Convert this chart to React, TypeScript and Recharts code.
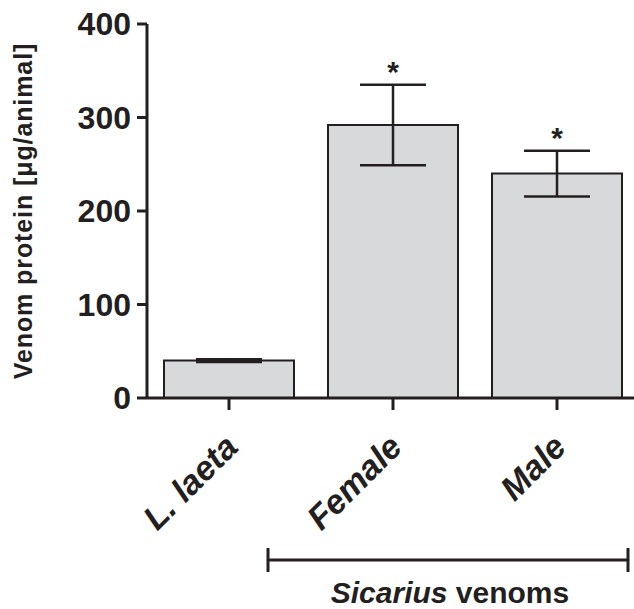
import { BarChart, Bar, XAxis, YAxis, ErrorBar, LabelList } from "recharts";

const groups = ["L. laeta", "Female", "Male"];
const means = [40, 292, 240];
const sems = [1.4, 43, 24.5];
const marks = ["", "*", "*"];
const yTicks = [0, 100, 200, 300, 400];

const data = groups.map((g, i) => ({
  group: g,
  mean: means[i],
  sem: sems[i],
  mark: marks[i],
}));

const font = '"Liberation Sans", Arial, sans-serif';
const ink = "#231f20";

function GroupTick({ x, y, payload }: any) {
  const ax = x + 11;
  const ay = y + 37;
  return (
    <text
      x={ax}
      y={ay}
      transform={`rotate(-45, ${ax}, ${ay})`}
      textAnchor="end"
      fontFamily={font}
      fontStyle="italic"
      fontWeight="bold"
      fontSize={34}
      fill={ink}
    >
      {payload.value}
    </text>
  );
}

function StarLabel({ x, y, width, height, value, index }: any) {
  if (!value) return null;
  const perUnit = height / means[index];
  const top = y - sems[index] * perUnit;
  return (
    <text
      x={x + width / 2}
      y={top - 3}
      textAnchor="middle"
      fontFamily={font}
      fontWeight="bold"
      fontSize={30}
      fill={ink}
    >
      {value}
    </text>
  );
}

function YTitle({ viewBox }: any) {
  const cx = viewBox.x + 23;
  const cy = viewBox.y + viewBox.height / 2;
  return (
    <text
      x={cx}
      y={cy}
      transform={`rotate(-90, ${cx}, ${cy})`}
      textAnchor="middle"
      dominantBaseline="central"
      fontFamily={font}
      fontWeight="bold"
      fontSize={25}
      letterSpacing={0.9}
      fill={ink}
    >
      Venom protein [μg/animal]
    </text>
  );
}

export default function App() {
  return (
    <div
      style={{
        position: "absolute",
        left: 0,
        top: 0,
        width: 634,
        height: 609,
        overflow: "hidden",
        background: "#fff",
      }}
    >
      <BarChart
        width={660}
        height={609}
        data={data}
        margin={{ top: 24, right: 21, bottom: 111, left: 0 }}
        barSize={130}
      >
        <XAxis
          dataKey="group"
          height={100}
          axisLine={{ stroke: ink, strokeWidth: 3 }}
          tickLine={{ stroke: ink, strokeWidth: 3 }}
          tickSize={12}
          tick={<GroupTick />}
          interval={0}
        />
        <YAxis
          width={147}
          domain={[0, 400]}
          ticks={yTicks}
          axisLine={{ stroke: ink, strokeWidth: 3 }}
          tickLine={{ stroke: ink, strokeWidth: 3 }}
          tickSize={10}
          tickMargin={6}
          tick={{ fontFamily: font, fontWeight: "bold", fontSize: 32, fill: ink }}
          label={<YTitle />}
        />
        <Bar
          dataKey="mean"
          fill="#d8d9db"
          stroke={ink}
          strokeWidth={2}
          isAnimationActive={false}
        >
          <ErrorBar dataKey="sem" width={33} stroke={ink} strokeWidth={2.5} />
          <LabelList dataKey="mark" content={<StarLabel />} />
        </Bar>
      </BarChart>
      <svg
        width={634}
        height={609}
        style={{ position: "absolute", left: 0, top: 0, pointerEvents: "none" }}
      >
        <g stroke={ink} strokeWidth={3}>
          <line x1={268} y1={560} x2={628} y2={560} />
          <line x1={268} y1={548} x2={268} y2={572} />
          <line x1={628} y1={548} x2={628} y2={572} />
        </g>
        <text
          x={450}
          y={603}
          textAnchor="middle"
          fontFamily={font}
          fontWeight="bold"
          fontSize={30}
          fill={ink}
        >
          <tspan fontStyle="italic">Sicarius</tspan> venoms
        </text>
      </svg>
    </div>
  );
}
